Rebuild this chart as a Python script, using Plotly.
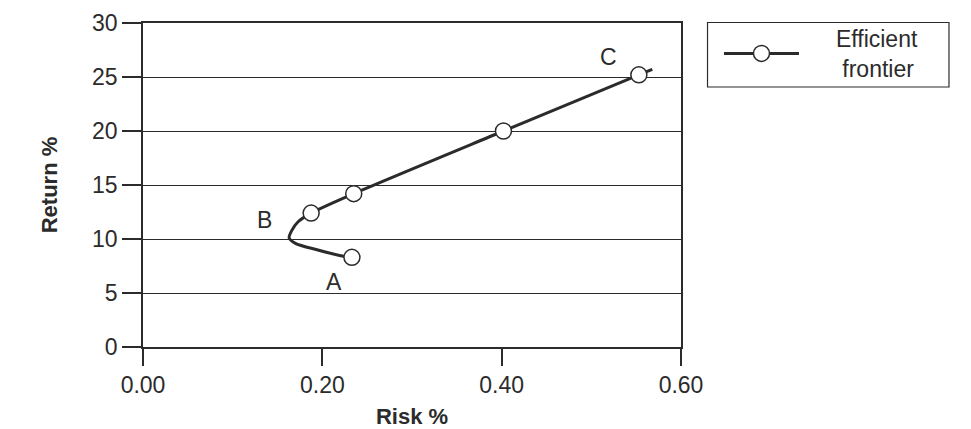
import plotly.graph_objects as go

# Efficient frontier curve (risk, return)
curve_risk = [0.233, 0.218, 0.194, 0.170, 0.163, 0.166, 0.173, 0.1875, 0.235, 0.402, 0.553, 0.568]
curve_return = [8.3, 8.5, 9.0, 9.6, 10.1, 10.8, 11.6, 12.4, 14.2, 20.0, 25.2, 25.7]

# Highlighted portfolios (circle markers)
marker_risk = [0.233, 0.1875, 0.235, 0.402, 0.553]
marker_return = [8.3, 12.4, 14.2, 20.0, 25.2]

# Point labels
label_text = ["A", "B", "C"]
label_risk = [0.213, 0.136, 0.519]
label_return = [6.0, 11.75, 26.85]

x_ticks = [0.0, 0.2, 0.4, 0.6]
x_ticklabels = ["0.00", "0.20", "0.40", "0.60"]
y_ticks = [0, 5, 10, 15, 20, 25, 30]

legend_name = ("&nbsp;&nbsp;&nbsp;&nbsp;&nbsp;Efficient&nbsp;&nbsp;&nbsp;"
               "<br>&nbsp;&nbsp;&nbsp;&nbsp;&nbsp;&nbsp;frontier")

INK = "#2b2b2b"
FONT = "Liberation Sans, Arial, sans-serif"

fig = go.Figure()
fig.add_trace(go.Scatter(
    x=curve_risk, y=curve_return, mode="lines",
    line=dict(color=INK, width=3, shape="spline", smoothing=0.8),
    showlegend=False, hoverinfo="skip"))
fig.add_trace(go.Scatter(
    x=marker_risk, y=marker_return, mode="markers",
    marker=dict(size=16, color="white", line=dict(color=INK, width=1.5)),
    showlegend=False))
fig.add_trace(go.Scatter(
    x=[None], y=[None], mode="lines+markers", name=legend_name,
    line=dict(color=INK, width=3),
    marker=dict(size=16, color="white", line=dict(color=INK, width=1.5))))

for t, xx, yy in zip(label_text, label_risk, label_return):
    fig.add_annotation(x=xx, y=yy, text=t, showarrow=False,
                       font=dict(family=FONT, size=23, color=INK))

# legend frame
fig.add_shape(type="rect", xref="paper", yref="paper",
              x0=1.0493, x1=1.4981, y0=0.8025, y1=1.0015,
              line=dict(color=INK, width=1.2), fillcolor="rgba(0,0,0,0)")

fig.update_layout(
    width=971, height=429,
    margin=dict(l=143, r=290, t=23, b=82),
    paper_bgcolor="white", plot_bgcolor="white",
    font=dict(family=FONT, size=23, color=INK),
    legend=dict(x=1.0706, y=1.0185, xanchor="left", yanchor="top",
                borderwidth=0, itemwidth=75, bgcolor="rgba(0,0,0,0)",
                font=dict(family=FONT, size=23, color=INK)),
)
fig.update_xaxes(range=[0, 0.6], tickvals=x_ticks, ticktext=x_ticklabels,
                 ticks="outside", ticklen=17, tickcolor=INK, tickwidth=1.5,
                 showline=True, linecolor=INK, linewidth=1.5, mirror=True,
                 showgrid=False, zeroline=False, automargin=False,
                 title=dict(text="<b>Risk %</b>", standoff=12, font=dict(size=22)))
fig.update_yaxes(range=[0, 30], tickvals=y_ticks,
                 ticks="outside", ticklen=19, tickcolor=INK, tickwidth=1.5,
                 showline=True, linecolor=INK, linewidth=1.5, mirror=True,
                 showgrid=True, gridcolor=INK, gridwidth=1.2, zeroline=False,
                 automargin=False,
                 title=dict(text="<b>Return %</b>", standoff=28, font=dict(size=22)))

fig.write_html("out.html")
